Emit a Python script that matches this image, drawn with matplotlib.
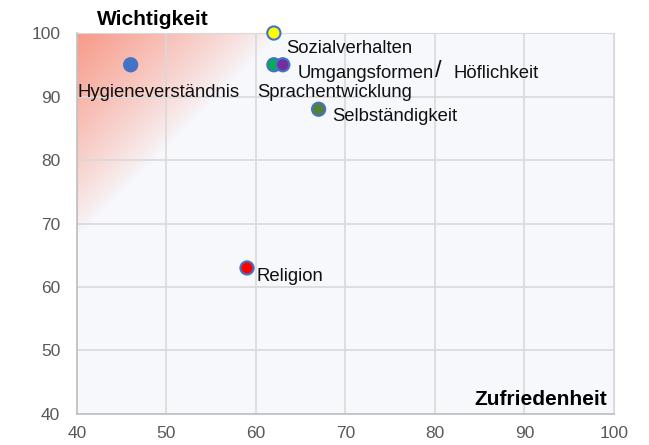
import numpy as np
import matplotlib.pyplot as plt
from matplotlib.colors import to_rgb

plt.rcParams['font.family'] = ['Liberation Sans', 'DejaVu Sans']

# data
namen = ["Hygieneverständnis", "Sozialverhalten", "Sprachentwicklung",
         "Umgangsformen", "Selbständigkeit", "Religion"]
zufriedenheit = [46, 62, 62, 63, 67, 59]
wichtigkeit = [95, 100, 95, 95, 88, 63]
farben = ["#4472C4", "#FFFF00", "#00B050", "#7030A0", "#548235", "#FF0000"]
# label anchor (left edge, vertical centre) in data units
label_x = [40.1, 63.4, 60.1, 64.6, 68.5, 60.1]
label_y = [90.6, 97.5, 90.7, 93.6, 86.8, 61.6]

fig = plt.figure(figsize=(6.49, 4.45), dpi=100)
ax = fig.add_axes([0.1186, 0.0697, 0.8274, 0.8561])
ax.set_xlim(40, 100)
ax.set_ylim(40, 100)
ax.set_facecolor("#F7F8FC")

# red diagonal gradient in the upper left corner
nx, ny = 600, 600
gx, gy = np.meshgrid(np.linspace(0, 1, nx), np.linspace(0, 1, ny))
d = gx / 0.34 + gy / 0.48
alpha = np.clip(1 - d / 1.12, 0, 1) ** 0.85
img = np.zeros((ny, nx, 4))
img[..., :3] = to_rgb("#F89A88")
img[..., 3] = alpha
ax.imshow(img, extent=[40, 100, 40, 100], aspect="auto", zorder=0.5,
          interpolation="bilinear", origin="upper")

ax.set_xticks(np.arange(40, 101, 10))
ax.set_yticks(np.arange(40, 101, 10))
ax.grid(True, color="#D9D9D9", linewidth=1.2, zorder=1)
ax.set_axisbelow(True)
for s in ["top", "right"]:
    ax.spines[s].set_color("#D9D9D9")
for s in ["left", "bottom"]:
    ax.spines[s].set_color("#BFBFBF")
    ax.spines[s].set_linewidth(1.2)
ax.tick_params(length=0, labelsize=12.5, labelcolor="#595959")
ax.tick_params(axis="x", pad=9)
ax.tick_params(axis="y", pad=12)

ax.scatter(zufriedenheit, wichtigkeit, s=90, c=farben, edgecolors="#4472C4",
           linewidths=1.5, zorder=3, clip_on=False)

for n, lx, ly in zip(namen, label_x, label_y):
    ax.text(lx, ly, n, fontsize=13.3, va="center", ha="left", color="#111111",
            zorder=4)
# the rest of "Umgangsformen/ Höflichkeit" (slash drawn larger)
ax.text(80.0, 94.0, "/", fontsize=17, va="center", ha="left", color="#111111")
ax.text(82.1, 93.6, "Höflichkeit", fontsize=13.3, va="center", ha="left",
        color="#111111")

fig.text(0.235, 0.956, "Wichtigkeit", fontsize=15, fontweight="bold",
         ha="center", va="center")
ax.text(99.2, 40.8, "Zufriedenheit", fontsize=15, fontweight="bold",
        ha="right", va="bottom")

fig.savefig("out.png", dpi=100)
